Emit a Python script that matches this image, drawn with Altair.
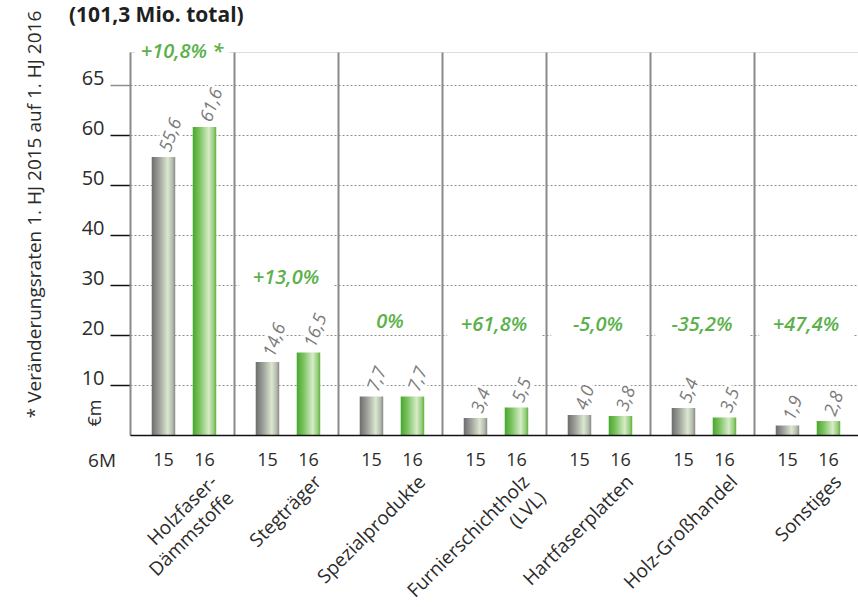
import altair as alt
import pandas as pd

# Umsatz je Geschäftsbereich, erstes Halbjahr 2015 vs. 2016 (Mio. €)
categories = [
    "Holzfaser-\nDämmstoffe",
    "Stegträger",
    "Spezialprodukte",
    "Furnierschichtholz\n(LVL)",
    "Hartfaserplatten",
    "Holz-Großhandel",
    "Sonstiges",
]
years = ["15", "16"]
values_15 = [55.6, 14.6, 7.7, 3.4, 4.0, 5.4, 1.9]
values_16 = [61.6, 16.5, 7.7, 5.5, 3.8, 3.5, 2.8]
changes = ["+10,8% *", "+13,0%", "0%", "+61,8%", "-5,0%", "-35,2%", "+47,4%"]

tick_values = [10, 20, 30, 40, 50, 60, 70]

FONT = "Open Sans"
GREEN_TEXT = "#5bb14b"
GREY_TEXT = "#7b7b7b"
DARK = "#2b2b2b"

W, H = 728, 383
Y_MAX = 76.6

rows = []
for c, a, b in zip(categories, values_15, values_16):
    for yr, v in zip(years, (a, b)):
        rows.append({"cat": c, "year": yr, "value": v,
                     "label": f"{v:.1f}".replace(".", ",")})
bars = pd.DataFrame(rows)

# change label sits above the taller bar of each pair
ann = pd.DataFrame({
    "cat": categories,
    "change": changes,
    "pos": [max(max(a, b) + 15, 22) for a, b in zip(values_15, values_16)],
})
ann["lo"] = ann["pos"] - 2.2
ann["hi"] = ann["pos"] + 2.2

x_enc = alt.X(
    "cat:N",
    sort=categories,
    scale=alt.Scale(paddingInner=0, paddingOuter=0),
    axis=alt.Axis(
        title=None,
        orient="bottom",
        grid=True,
        gridColor="#8a8a8a",
        gridWidth=2,
        bandPosition=0,
        ticks=False,
        domain=True,
        domainColor="#111111",
        domainWidth=1.5,
        labelAngle=-45,
        labelAlign="right",
        labelBaseline="top",
        labelPadding=37,
        labelOffset=26,
        labelFont=FONT,
        labelFontSize=19,
        labelColor=DARK,
        labelLineHeight=23,
        labelOverlap=False,
        labelBound=False,
        labelExpr="split(datum.label, '\\n')",
        zindex=1,
    ),
)
xoff_enc = alt.XOffset(
    "year:N",
    scale=alt.Scale(domain=years, paddingInner=0.4268, paddingOuter=0.4817, align=0.55),
)
y_scale = alt.Scale(domain=[0, Y_MAX], nice=False, zero=True)
y_enc = alt.Y(
    "value:Q",
    scale=y_scale,
    axis=alt.Axis(
        values=tick_values,
        labelExpr="datum.value == 70 ? '65' : datum.label",
        grid=True,
        gridColor="#8f8f8f",
        gridDash=[2, 2],
        gridWidth=1,
        domain=False,
        tickSize=20,
        tickWidth=1.5,
        tickColor={"condition": {"test": "datum.value == 70", "value": "#8f8f8f"},
                   "value": "#111111"},
        labelFont=FONT,
        labelFontSize=20,
        labelColor=DARK,
        labelPadding=6,
        labelBaseline="alphabetic",
        labelOffset=-1,
        title="* Veränderungsraten 1. HJ 2015 auf 1. HJ 2016",
        titleFont=FONT,
        titleFontSize=19,
        titleFontWeight="normal",
        titleColor=DARK,
        titleAngle=270,
        titleAlign="center",
        titleBaseline="middle",
        titleX=-96,
        titleY=162,
    ),
)


def gradient(stops):
    return alt.LinearGradient(
        gradient="linear",
        stops=[alt.GradientStop(offset=o, color=c) for o, c in stops],
        x1=0, x2=1, y1=0, y2=0,
    )


grey_fill = gradient([(0, "#6c6c6c"), (0.3, "#9c9e99"), (0.68, "#dbe7cf"),
                      (0.88, "#b5bcae"), (1, "#888888")])
green_fill = gradient([(0, "#48a82a"), (0.3, "#7dc363"), (0.68, "#d6ecc8"),
                       (0.88, "#98cf7e"), (1, "#5db33e")])

base = alt.Chart(bars)

bar15 = base.transform_filter("datum.year == '15'").mark_bar(color=grey_fill).encode(
    x=x_enc, xOffset=xoff_enc, y=y_enc)
bar16 = base.transform_filter("datum.year == '16'").mark_bar(color=green_fill).encode(
    x=x_enc, xOffset=xoff_enc, y=y_enc)

value_style = dict(angle=290, align="left", baseline="middle", dx=6,
                   font=FONT, fontSize=18, fontStyle="italic")
value_halo = base.mark_text(stroke="white", strokeWidth=6, color="white",
                            **value_style).encode(
    x=x_enc, xOffset=xoff_enc, y=y_enc, text="label:N")
value_text = base.mark_text(color=GREY_TEXT, **value_style).encode(
    x=x_enc, xOffset=xoff_enc, y=y_enc, text="label:N")

change_box = alt.Chart(ann).mark_bar(color="white", width=alt.RelativeBandSize(0.9)).encode(
    x=x_enc, y=alt.Y("lo:Q", scale=y_scale), y2="hi:Q")
change_text = alt.Chart(ann).mark_text(
    font=FONT, fontSize=20, fontStyle="italic", fontWeight=600, color=GREEN_TEXT,
    baseline="middle",
).encode(x=x_enc, y=alt.Y("pos:Q", scale=y_scale), text="change:N")

year_text = base.mark_text(font=FONT, fontSize=18, color=DARK, baseline="middle").encode(
    x=x_enc, xOffset=xoff_enc, y=alt.value(H + 26), text="year:N")

unit_text = alt.Chart(pd.DataFrame({"t": ["€m"]})).mark_text(
    font=FONT, fontSize=18, color=DARK, angle=270, baseline="middle",
).encode(x=alt.value(-34), y=alt.value(H - 22), text="t:N")
period_text = alt.Chart(pd.DataFrame({"t": ["6M"]})).mark_text(
    font=FONT, fontSize=19, color=DARK, baseline="middle",
).encode(x=alt.value(-28), y=alt.value(H + 26), text="t:N")

heading = alt.Chart(pd.DataFrame({"t": ["(101,3 Mio. total)"]})).mark_text(
    font=FONT, fontSize=21, fontWeight="bold", color="#1f1f1f",
    align="left", baseline="alphabetic",
).encode(x=alt.value(-61), y=alt.value(-30), text="t:N")

chart = alt.layer(
    bar15, bar16, value_halo, value_text, change_box, change_text,
    year_text, unit_text, period_text, heading,
).properties(
    width=W,
    height=H,
    autosize=alt.AutoSizeParams(type="none"),
    padding={"left": 130, "top": 52, "right": 0, "bottom": 172},
).configure_view(stroke=None).configure(background="white")

chart.save("out.html", embed_options={"renderer": "svg", "actions": False})
